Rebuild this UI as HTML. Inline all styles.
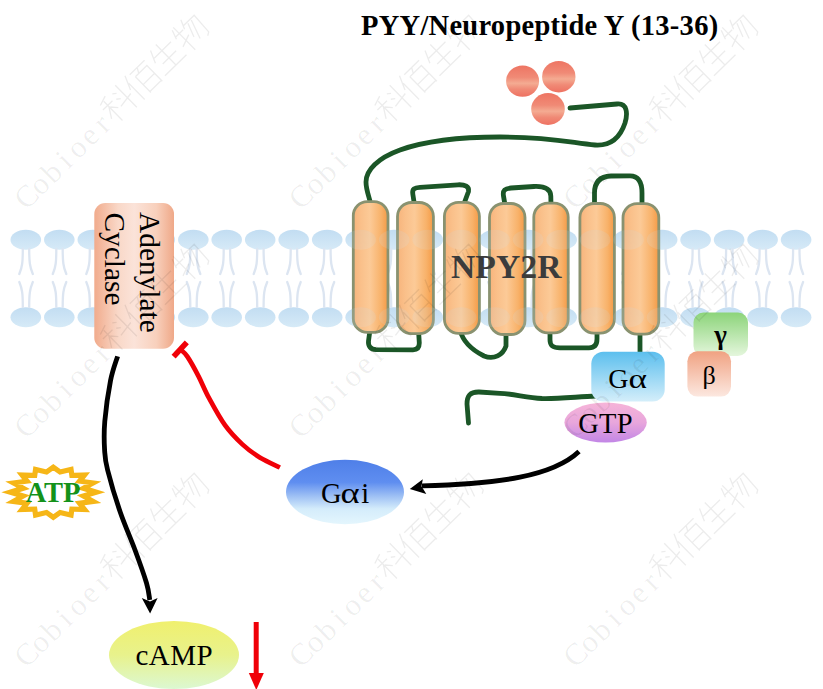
<!DOCTYPE html>
<html><head><meta charset="utf-8">
<style>
html,body{margin:0;padding:0;background:#fff;}
svg{display:block;}
text{font-family:"Liberation Serif",serif;}
</style></head>
<body>
<svg width="823" height="689" viewBox="0 0 823 689" >
<defs>
<linearGradient id="hd" x1="0" y1="0" x2="0" y2="1"><stop offset="0" stop-color="#c2ddf2"/><stop offset="1" stop-color="#d6eaf7"/></linearGradient>
<linearGradient id="hx" x1="0" y1="0" x2="1" y2="0"><stop offset="0" stop-color="#f7b47c"/><stop offset="0.22" stop-color="#fac08a"/><stop offset="0.48" stop-color="#fcca97"/><stop offset="0.8" stop-color="#f8b26a"/><stop offset="1" stop-color="#f49a46"/></linearGradient>
<linearGradient id="ac" x1="0" y1="0" x2="1" y2="0"><stop offset="0" stop-color="#f1ab8c"/><stop offset="0.3" stop-color="#f9d8c8"/><stop offset="0.5" stop-color="#fbe3d9"/><stop offset="0.78" stop-color="#f8d0bc"/><stop offset="1" stop-color="#efa888"/></linearGradient>
<linearGradient id="lg" x1="0" y1="0" x2="0" y2="1"><stop offset="0" stop-color="#ee7563"/><stop offset="0.38" stop-color="#f08a76"/><stop offset="0.57" stop-color="#f4ab92"/><stop offset="0.76" stop-color="#f08a76"/><stop offset="1" stop-color="#ee7262"/></linearGradient>
<linearGradient id="ga" x1="0" y1="0" x2="0" y2="1"><stop offset="0" stop-color="#5cbfee"/><stop offset="1" stop-color="#d4eefa"/></linearGradient>
<linearGradient id="gg" x1="0" y1="0" x2="0" y2="1"><stop offset="0" stop-color="#8cd47a"/><stop offset="1" stop-color="#e4f6dc"/></linearGradient>
<linearGradient id="gb" x1="0" y1="0" x2="0" y2="1"><stop offset="0" stop-color="#f0a282"/><stop offset="1" stop-color="#fce8e0"/></linearGradient>
<linearGradient id="gtp" x1="0" y1="0" x2="0" y2="1"><stop offset="0" stop-color="#f6b4d8"/><stop offset="0.5" stop-color="#e8a6dc"/><stop offset="1" stop-color="#c286e6"/></linearGradient>
<linearGradient id="gai" x1="0" y1="0" x2="0" y2="1"><stop offset="0" stop-color="#4f7fe8"/><stop offset="0.35" stop-color="#5f8ef0"/><stop offset="0.56" stop-color="#9dbff4"/><stop offset="0.76" stop-color="#d4ecfb"/><stop offset="1" stop-color="#e4f6fd"/></linearGradient>
<linearGradient id="camp" x1="0" y1="0" x2="0" y2="1"><stop offset="0" stop-color="#f0f06e"/><stop offset="0.5" stop-color="#e8f28c"/><stop offset="1" stop-color="#dcf8d2"/></linearGradient>
</defs>
<rect width="823" height="689" fill="#fff"/>

<g id="membrane">
<g transform="translate(25.8,0)"><ellipse cx="0" cy="239.8" rx="15.3" ry="10" fill="url(#hd)"/><ellipse cx="0" cy="317.2" rx="15.3" ry="10" fill="url(#hd)"/><path d="M-3,249 C-3,262 -3.5,267 -6.5,274 M3.4,249 C3.4,262 4,267 7,274 M-6.5,282 C-3.5,289 -3,294 -3,307 M7,282 C4,289 3.4,294 3.4,307" fill="none" stroke="#dce5f1" stroke-width="2.3" stroke-linecap="round"/></g>
<g transform="translate(59.3,0)"><ellipse cx="0" cy="239.8" rx="15.3" ry="10" fill="url(#hd)"/><ellipse cx="0" cy="317.2" rx="15.3" ry="10" fill="url(#hd)"/><path d="M-3,249 C-3,262 -3.5,267 -6.5,274 M3.4,249 C3.4,262 4,267 7,274 M-6.5,282 C-3.5,289 -3,294 -3,307 M7,282 C4,289 3.4,294 3.4,307" fill="none" stroke="#dce5f1" stroke-width="2.3" stroke-linecap="round"/></g>
<g transform="translate(92.8,0)"><ellipse cx="0" cy="239.8" rx="15.3" ry="10" fill="url(#hd)"/><ellipse cx="0" cy="317.2" rx="15.3" ry="10" fill="url(#hd)"/><path d="M-3,249 C-3,262 -3.5,267 -6.5,274 M3.4,249 C3.4,262 4,267 7,274 M-6.5,282 C-3.5,289 -3,294 -3,307 M7,282 C4,289 3.4,294 3.4,307" fill="none" stroke="#dce5f1" stroke-width="2.3" stroke-linecap="round"/></g>
<g transform="translate(126.3,0)"><ellipse cx="0" cy="239.8" rx="15.3" ry="10" fill="url(#hd)"/><ellipse cx="0" cy="317.2" rx="15.3" ry="10" fill="url(#hd)"/><path d="M-3,249 C-3,262 -3.5,267 -6.5,274 M3.4,249 C3.4,262 4,267 7,274 M-6.5,282 C-3.5,289 -3,294 -3,307 M7,282 C4,289 3.4,294 3.4,307" fill="none" stroke="#dce5f1" stroke-width="2.3" stroke-linecap="round"/></g>
<g transform="translate(159.8,0)"><ellipse cx="0" cy="239.8" rx="15.3" ry="10" fill="url(#hd)"/><ellipse cx="0" cy="317.2" rx="15.3" ry="10" fill="url(#hd)"/><path d="M-3,249 C-3,262 -3.5,267 -6.5,274 M3.4,249 C3.4,262 4,267 7,274 M-6.5,282 C-3.5,289 -3,294 -3,307 M7,282 C4,289 3.4,294 3.4,307" fill="none" stroke="#dce5f1" stroke-width="2.3" stroke-linecap="round"/></g>
<g transform="translate(193.3,0)"><ellipse cx="0" cy="239.8" rx="15.3" ry="10" fill="url(#hd)"/><ellipse cx="0" cy="317.2" rx="15.3" ry="10" fill="url(#hd)"/><path d="M-3,249 C-3,262 -3.5,267 -6.5,274 M3.4,249 C3.4,262 4,267 7,274 M-6.5,282 C-3.5,289 -3,294 -3,307 M7,282 C4,289 3.4,294 3.4,307" fill="none" stroke="#dce5f1" stroke-width="2.3" stroke-linecap="round"/></g>
<g transform="translate(226.7,0)"><ellipse cx="0" cy="239.8" rx="15.3" ry="10" fill="url(#hd)"/><ellipse cx="0" cy="317.2" rx="15.3" ry="10" fill="url(#hd)"/><path d="M-3,249 C-3,262 -3.5,267 -6.5,274 M3.4,249 C3.4,262 4,267 7,274 M-6.5,282 C-3.5,289 -3,294 -3,307 M7,282 C4,289 3.4,294 3.4,307" fill="none" stroke="#dce5f1" stroke-width="2.3" stroke-linecap="round"/></g>
<g transform="translate(260.2,0)"><ellipse cx="0" cy="239.8" rx="15.3" ry="10" fill="url(#hd)"/><ellipse cx="0" cy="317.2" rx="15.3" ry="10" fill="url(#hd)"/><path d="M-3,249 C-3,262 -3.5,267 -6.5,274 M3.4,249 C3.4,262 4,267 7,274 M-6.5,282 C-3.5,289 -3,294 -3,307 M7,282 C4,289 3.4,294 3.4,307" fill="none" stroke="#dce5f1" stroke-width="2.3" stroke-linecap="round"/></g>
<g transform="translate(293.7,0)"><ellipse cx="0" cy="239.8" rx="15.3" ry="10" fill="url(#hd)"/><ellipse cx="0" cy="317.2" rx="15.3" ry="10" fill="url(#hd)"/><path d="M-3,249 C-3,262 -3.5,267 -6.5,274 M3.4,249 C3.4,262 4,267 7,274 M-6.5,282 C-3.5,289 -3,294 -3,307 M7,282 C4,289 3.4,294 3.4,307" fill="none" stroke="#dce5f1" stroke-width="2.3" stroke-linecap="round"/></g>
<g transform="translate(327.2,0)"><ellipse cx="0" cy="239.8" rx="15.3" ry="10" fill="url(#hd)"/><ellipse cx="0" cy="317.2" rx="15.3" ry="10" fill="url(#hd)"/><path d="M-3,249 C-3,262 -3.5,267 -6.5,274 M3.4,249 C3.4,262 4,267 7,274 M-6.5,282 C-3.5,289 -3,294 -3,307 M7,282 C4,289 3.4,294 3.4,307" fill="none" stroke="#dce5f1" stroke-width="2.3" stroke-linecap="round"/></g>
<g transform="translate(360.7,0)"><ellipse cx="0" cy="239.8" rx="15.3" ry="10" fill="url(#hd)"/><ellipse cx="0" cy="317.2" rx="15.3" ry="10" fill="url(#hd)"/><path d="M-3,249 C-3,262 -3.5,267 -6.5,274 M3.4,249 C3.4,262 4,267 7,274 M-6.5,282 C-3.5,289 -3,294 -3,307 M7,282 C4,289 3.4,294 3.4,307" fill="none" stroke="#dce5f1" stroke-width="2.3" stroke-linecap="round"/></g>
<g transform="translate(394.2,0)"><ellipse cx="0" cy="239.8" rx="15.3" ry="10" fill="url(#hd)"/><ellipse cx="0" cy="317.2" rx="15.3" ry="10" fill="url(#hd)"/><path d="M-3,249 C-3,262 -3.5,267 -6.5,274 M3.4,249 C3.4,262 4,267 7,274 M-6.5,282 C-3.5,289 -3,294 -3,307 M7,282 C4,289 3.4,294 3.4,307" fill="none" stroke="#dce5f1" stroke-width="2.3" stroke-linecap="round"/></g>
<g transform="translate(427.7,0)"><ellipse cx="0" cy="239.8" rx="15.3" ry="10" fill="url(#hd)"/><ellipse cx="0" cy="317.2" rx="15.3" ry="10" fill="url(#hd)"/><path d="M-3,249 C-3,262 -3.5,267 -6.5,274 M3.4,249 C3.4,262 4,267 7,274 M-6.5,282 C-3.5,289 -3,294 -3,307 M7,282 C4,289 3.4,294 3.4,307" fill="none" stroke="#dce5f1" stroke-width="2.3" stroke-linecap="round"/></g>
<g transform="translate(461.2,0)"><ellipse cx="0" cy="239.8" rx="15.3" ry="10" fill="url(#hd)"/><ellipse cx="0" cy="317.2" rx="15.3" ry="10" fill="url(#hd)"/><path d="M-3,249 C-3,262 -3.5,267 -6.5,274 M3.4,249 C3.4,262 4,267 7,274 M-6.5,282 C-3.5,289 -3,294 -3,307 M7,282 C4,289 3.4,294 3.4,307" fill="none" stroke="#dce5f1" stroke-width="2.3" stroke-linecap="round"/></g>
<g transform="translate(494.7,0)"><ellipse cx="0" cy="239.8" rx="15.3" ry="10" fill="url(#hd)"/><ellipse cx="0" cy="317.2" rx="15.3" ry="10" fill="url(#hd)"/><path d="M-3,249 C-3,262 -3.5,267 -6.5,274 M3.4,249 C3.4,262 4,267 7,274 M-6.5,282 C-3.5,289 -3,294 -3,307 M7,282 C4,289 3.4,294 3.4,307" fill="none" stroke="#dce5f1" stroke-width="2.3" stroke-linecap="round"/></g>
<g transform="translate(528.1,0)"><ellipse cx="0" cy="239.8" rx="15.3" ry="10" fill="url(#hd)"/><ellipse cx="0" cy="317.2" rx="15.3" ry="10" fill="url(#hd)"/><path d="M-3,249 C-3,262 -3.5,267 -6.5,274 M3.4,249 C3.4,262 4,267 7,274 M-6.5,282 C-3.5,289 -3,294 -3,307 M7,282 C4,289 3.4,294 3.4,307" fill="none" stroke="#dce5f1" stroke-width="2.3" stroke-linecap="round"/></g>
<g transform="translate(561.6,0)"><ellipse cx="0" cy="239.8" rx="15.3" ry="10" fill="url(#hd)"/><ellipse cx="0" cy="317.2" rx="15.3" ry="10" fill="url(#hd)"/><path d="M-3,249 C-3,262 -3.5,267 -6.5,274 M3.4,249 C3.4,262 4,267 7,274 M-6.5,282 C-3.5,289 -3,294 -3,307 M7,282 C4,289 3.4,294 3.4,307" fill="none" stroke="#dce5f1" stroke-width="2.3" stroke-linecap="round"/></g>
<g transform="translate(595.1,0)"><ellipse cx="0" cy="239.8" rx="15.3" ry="10" fill="url(#hd)"/><ellipse cx="0" cy="317.2" rx="15.3" ry="10" fill="url(#hd)"/><path d="M-3,249 C-3,262 -3.5,267 -6.5,274 M3.4,249 C3.4,262 4,267 7,274 M-6.5,282 C-3.5,289 -3,294 -3,307 M7,282 C4,289 3.4,294 3.4,307" fill="none" stroke="#dce5f1" stroke-width="2.3" stroke-linecap="round"/></g>
<g transform="translate(628.6,0)"><ellipse cx="0" cy="239.8" rx="15.3" ry="10" fill="url(#hd)"/><ellipse cx="0" cy="317.2" rx="15.3" ry="10" fill="url(#hd)"/><path d="M-3,249 C-3,262 -3.5,267 -6.5,274 M3.4,249 C3.4,262 4,267 7,274 M-6.5,282 C-3.5,289 -3,294 -3,307 M7,282 C4,289 3.4,294 3.4,307" fill="none" stroke="#dce5f1" stroke-width="2.3" stroke-linecap="round"/></g>
<g transform="translate(662.1,0)"><ellipse cx="0" cy="239.8" rx="15.3" ry="10" fill="url(#hd)"/><ellipse cx="0" cy="317.2" rx="15.3" ry="10" fill="url(#hd)"/><path d="M-3,249 C-3,262 -3.5,267 -6.5,274 M3.4,249 C3.4,262 4,267 7,274 M-6.5,282 C-3.5,289 -3,294 -3,307 M7,282 C4,289 3.4,294 3.4,307" fill="none" stroke="#dce5f1" stroke-width="2.3" stroke-linecap="round"/></g>
<g transform="translate(695.6,0)"><ellipse cx="0" cy="239.8" rx="15.3" ry="10" fill="url(#hd)"/><ellipse cx="0" cy="317.2" rx="15.3" ry="10" fill="url(#hd)"/><path d="M-3,249 C-3,262 -3.5,267 -6.5,274 M3.4,249 C3.4,262 4,267 7,274 M-6.5,282 C-3.5,289 -3,294 -3,307 M7,282 C4,289 3.4,294 3.4,307" fill="none" stroke="#dce5f1" stroke-width="2.3" stroke-linecap="round"/></g>
<g transform="translate(729.1,0)"><ellipse cx="0" cy="239.8" rx="15.3" ry="10" fill="url(#hd)"/><ellipse cx="0" cy="317.2" rx="15.3" ry="10" fill="url(#hd)"/><path d="M-3,249 C-3,262 -3.5,267 -6.5,274 M3.4,249 C3.4,262 4,267 7,274 M-6.5,282 C-3.5,289 -3,294 -3,307 M7,282 C4,289 3.4,294 3.4,307" fill="none" stroke="#dce5f1" stroke-width="2.3" stroke-linecap="round"/></g>
<g transform="translate(762.6,0)"><ellipse cx="0" cy="239.8" rx="15.3" ry="10" fill="url(#hd)"/><ellipse cx="0" cy="317.2" rx="15.3" ry="10" fill="url(#hd)"/><path d="M-3,249 C-3,262 -3.5,267 -6.5,274 M3.4,249 C3.4,262 4,267 7,274 M-6.5,282 C-3.5,289 -3,294 -3,307 M7,282 C4,289 3.4,294 3.4,307" fill="none" stroke="#dce5f1" stroke-width="2.3" stroke-linecap="round"/></g>
<g transform="translate(796.1,0)"><ellipse cx="0" cy="239.8" rx="15.3" ry="10" fill="url(#hd)"/><ellipse cx="0" cy="317.2" rx="15.3" ry="10" fill="url(#hd)"/><path d="M-3,249 C-3,262 -3.5,267 -6.5,274 M3.4,249 C3.4,262 4,267 7,274 M-6.5,282 C-3.5,289 -3,294 -3,307 M7,282 C4,289 3.4,294 3.4,307" fill="none" stroke="#dce5f1" stroke-width="2.3" stroke-linecap="round"/></g>
</g>

<g fill="none" stroke="#1b5627" stroke-width="4.8" stroke-linecap="round" stroke-linejoin="round">
<path d="M570,108 L617,104 C627,103 628,113 625,123 C620,138 610,146 595,145 C572,143 552,137 500,137 C460,137 425,141 400,150 C378,158 366,170 366,182 C366,190 369,196 371,205"/>
<path d="M414.5,205 L412.8,194 C412,189 414.5,187.6 420,187.3 L458,184.8 C465,184.5 469.5,186.5 468.5,191.5 L463.5,205"/>
<path d="M505,205 L503.5,196 C502.5,190 505,188.5 511,188 L534,186.5 C546,186 550.5,189.5 550.8,196 L551,205"/>
<path d="M594.5,205 L594.5,193 C594.5,183 599,176.5 611,176 L630,175.8 C639,175.8 642,183 642,193 L642,205"/>
<path d="M370,330 L368.5,341 C368,346 370.5,349.4 376,349.6 L413,349.8 C418,349.8 419.3,347 419.3,343 L418.5,330"/>
<path d="M460,330 C463,342 472,350 484,356 C494,360 503,355 506,346 L506,330"/>
<path d="M550,330 L550,340 C550,346 553,347.8 560,347.8 L589,347.8 C595,347.8 597,344 597,339 L597,330"/>
<path d="M640,330 L640,356"/>
<path d="M596,396 C575,397 556,399 542,398.5 C526,397.5 514,394 500,393.3 L479,392 C470,391.8 467,396 467,404 L468.5,423" stroke-width="4.8"/>
</g>

<g>
<rect x="353.3" y="201.6" width="34.7" height="130.8" rx="14" ry="14" fill="url(#hx)" stroke="#899270" stroke-width="2.8"/>
<rect x="397.5" y="202.5" width="35.9" height="131.2" rx="14" ry="14" fill="url(#hx)" stroke="#899270" stroke-width="2.8"/>
<rect x="444.4" y="202.3" width="35.0" height="131.0" rx="14" ry="14" fill="url(#hx)" stroke="#899270" stroke-width="2.8"/>
<rect x="489.5" y="203.5" width="35.5" height="131.0" rx="14" ry="14" fill="url(#hx)" stroke="#899270" stroke-width="2.8"/>
<rect x="533.8" y="203.1" width="34.4" height="129.8" rx="14" ry="14" fill="url(#hx)" stroke="#899270" stroke-width="2.8"/>
<rect x="579.9" y="203.5" width="34.5" height="129.6" rx="14" ry="14" fill="url(#hx)" stroke="#899270" stroke-width="2.8"/>
<rect x="623.0" y="203.7" width="35.8" height="130.5" rx="14" ry="14" fill="url(#hx)" stroke="#899270" stroke-width="2.8"/>
</g>
<g opacity="0.14"><g transform="translate(360.7,0)"><ellipse cx="0" cy="239.8" rx="15.3" ry="10" fill="url(#hd)"/><ellipse cx="0" cy="317.2" rx="15.3" ry="10" fill="url(#hd)"/></g>
<g transform="translate(394.2,0)"><ellipse cx="0" cy="239.8" rx="15.3" ry="10" fill="url(#hd)"/><ellipse cx="0" cy="317.2" rx="15.3" ry="10" fill="url(#hd)"/></g>
<g transform="translate(427.7,0)"><ellipse cx="0" cy="239.8" rx="15.3" ry="10" fill="url(#hd)"/><ellipse cx="0" cy="317.2" rx="15.3" ry="10" fill="url(#hd)"/></g>
<g transform="translate(461.2,0)"><ellipse cx="0" cy="239.8" rx="15.3" ry="10" fill="url(#hd)"/><ellipse cx="0" cy="317.2" rx="15.3" ry="10" fill="url(#hd)"/></g>
<g transform="translate(494.7,0)"><ellipse cx="0" cy="239.8" rx="15.3" ry="10" fill="url(#hd)"/><ellipse cx="0" cy="317.2" rx="15.3" ry="10" fill="url(#hd)"/></g>
<g transform="translate(528.1,0)"><ellipse cx="0" cy="239.8" rx="15.3" ry="10" fill="url(#hd)"/><ellipse cx="0" cy="317.2" rx="15.3" ry="10" fill="url(#hd)"/></g>
<g transform="translate(561.6,0)"><ellipse cx="0" cy="239.8" rx="15.3" ry="10" fill="url(#hd)"/><ellipse cx="0" cy="317.2" rx="15.3" ry="10" fill="url(#hd)"/></g>
<g transform="translate(595.1,0)"><ellipse cx="0" cy="239.8" rx="15.3" ry="10" fill="url(#hd)"/><ellipse cx="0" cy="317.2" rx="15.3" ry="10" fill="url(#hd)"/></g>
<g transform="translate(628.6,0)"><ellipse cx="0" cy="239.8" rx="15.3" ry="10" fill="url(#hd)"/><ellipse cx="0" cy="317.2" rx="15.3" ry="10" fill="url(#hd)"/></g>
<g transform="translate(662.1,0)"><ellipse cx="0" cy="239.8" rx="15.3" ry="10" fill="url(#hd)"/><ellipse cx="0" cy="317.2" rx="15.3" ry="10" fill="url(#hd)"/></g></g>
<text x="506.3" y="278" font-size="33.6" font-weight="bold" fill="#3c3c3c" text-anchor="middle" letter-spacing="0.1">NPY2R</text>

<ellipse cx="522.6" cy="81.1" rx="16.5" ry="15.6" fill="url(#lg)"/>
<ellipse cx="558.8" cy="76.7" rx="16.7" ry="15.7" fill="url(#lg)"/>
<ellipse cx="548" cy="109" rx="16.8" ry="15.9" fill="url(#lg)"/>

<rect x="94.3" y="203" width="79.7" height="145.7" rx="11" fill="url(#ac)"/>
<g transform="translate(139.8,212) rotate(90)"><text x="0" y="0" font-size="29.4">Adenylate</text></g>
<g transform="translate(105,212.5) rotate(90)"><text x="0" y="0" font-size="29.4">Cyclase</text></g>

<rect x="693.5" y="312.6" width="54.5" height="43.3" rx="10" fill="url(#gg)"/>
<text x="720.5" y="344" font-size="27" font-weight="bold" text-anchor="middle">&#947;</text>
<rect x="687.4" y="351.3" width="43.6" height="45.3" rx="10" fill="url(#gb)"/>
<text x="709" y="384" font-size="26" text-anchor="middle">&#946;</text>
<rect x="591.3" y="351.8" width="73.4" height="49.6" rx="12" fill="url(#ga)"/>
<text x="608.3" y="388" font-size="28">G</text><text transform="translate(628.6,388) scale(1.26,1)" x="0" y="0" font-size="28">&#945;</text>
<ellipse cx="605.6" cy="422.6" rx="41.2" ry="20" fill="url(#gtp)"/>
<text x="605.6" y="432.5" font-size="28.5" text-anchor="middle" letter-spacing="0.3">GTP</text>

<ellipse cx="345" cy="492" rx="59" ry="32.3" fill="url(#gai)"/>
<text x="321" y="503" font-size="28.5">G</text><text transform="translate(340.5,503) scale(1.28,1)" x="0" y="0" font-size="28.5">&#945;</text><text x="361.2" y="503" font-size="28.5">i</text>

<path d="M579,451.5 C553,476 500,484 422,485.8" fill="none" stroke="#000" stroke-width="4.8"/>
<path d="M409.8,489 L422.8,479.2 L421.5,486.2 L426.3,494 Z" fill="#000"/>
<path d="M279.9,467.5 C276.5,465.8 266.1,461.4 259.8,457.5 C253.6,453.6 248.2,449.8 242.4,444.4 C236.6,439.0 230.5,432.9 225,425.2 C219.5,417.5 213.6,406.5 209.2,398.4 C204.8,390.3 202.3,383.6 198.7,376.6 C195.1,369.6 190.4,361.1 187.4,356.6 C184.4,352.1 181.7,350.7 180.5,349.5" fill="none" stroke="#f00008" stroke-width="4.7"/>
<path d="M173.6,356.6 L186.8,342.4" stroke="#f00008" stroke-width="5.6"/>
<path d="M117.6,356.3 C116.4,360.4 112.6,369.9 110.5,380.7 C108.4,391.5 105.8,409.8 104.8,421.3 C103.8,432.9 104.1,441.9 104.6,450 C105.1,458.1 105.0,459.7 107.6,470 C110.2,480.3 115.6,498.7 120.2,512 C124.8,525.3 130.6,538.2 135,550 C139.4,561.8 144.0,574.7 146.5,583 C149.0,591.3 149.2,597.2 149.8,600" fill="none" stroke="#000" stroke-width="4.8"/>
<path d="M150.1,613.5 L141.8,598 L150,601.5 L157.6,598 Z" fill="#000"/>

<clipPath id="starclip"><polygon points="53.30,464.00 60.62,469.15 73.20,466.15 74.13,472.66 90.07,472.26 84.48,479.14 101.34,481.41 90.08,487.62 105.30,492.20 90.08,496.78 101.34,502.99 84.48,505.26 90.07,512.14 74.13,511.74 73.20,518.25 60.62,515.25 53.30,520.40 45.98,515.25 33.40,518.25 32.47,511.74 16.53,512.14 22.12,505.26 5.26,502.99 16.52,496.78 1.30,492.20 16.52,487.62 5.26,481.41 22.12,479.14 16.53,472.26 32.47,472.66 33.40,466.15 45.98,469.15"/></clipPath><polygon points="53.30,464.00 60.62,469.15 73.20,466.15 74.13,472.66 90.07,472.26 84.48,479.14 101.34,481.41 90.08,487.62 105.30,492.20 90.08,496.78 101.34,502.99 84.48,505.26 90.07,512.14 74.13,511.74 73.20,518.25 60.62,515.25 53.30,520.40 45.98,515.25 33.40,518.25 32.47,511.74 16.53,512.14 22.12,505.26 5.26,502.99 16.52,496.78 1.30,492.20 16.52,487.62 5.26,481.41 22.12,479.14 16.53,472.26 32.47,472.66 33.40,466.15 45.98,469.15" fill="#fff" stroke="#f6b617" stroke-width="10.4" stroke-linejoin="miter" stroke-miterlimit="20" clip-path="url(#starclip)"/>
<text x="53.1" y="501.8" font-size="28.5" font-weight="bold" fill="#14921a" text-anchor="middle">ATP</text>

<ellipse cx="174" cy="655" rx="65" ry="34" fill="url(#camp)"/>
<text x="174.3" y="664.8" font-size="29" text-anchor="middle" letter-spacing="0.5">cAMP</text>
<path d="M256.2,622 L256.2,676" stroke="#f00008" stroke-width="5"/>
<path d="M248.8,673 L263.8,673 L256.3,690 Z" fill="#f00008"/>

<text x="361" y="34.5" font-size="28.5" font-weight="bold" letter-spacing="0.27">PYY/Neuropeptide Y (13-36)</text>

<g id="watermarks">
<g transform="translate(27.5,210.0) rotate(-44.5)"><text x="-1.6 18.5 36.0 56.9 71.0 89.4 108.6" y="0" font-size="31" fill="#000" fill-opacity="0.065">Cobioer</text><path transform="translate(122.5,0) scale(0.335)" d="M38,-80L8,-70M4,-55L44,-55M24,-72L24,8M24,-50L4,-18M26,-46L42,-28M58,-70L68,-62M55,-50L66,-42M50,-25L98,-32M82,-82L82,10" fill="none" stroke="#000" stroke-opacity="0.075" stroke-width="4"/><path transform="translate(156.3,0) scale(0.335)" d="M22,-82L4,-40M14,-58L14,10M34,-74L96,-74M64,-72L56,-58M42,-58L42,8M42,-58L90,-58L90,8M42,-25L90,-25M42,4L90,4" fill="none" stroke="#000" stroke-opacity="0.075" stroke-width="4"/><path transform="translate(190.1,0) scale(0.335)" d="M28,-82L12,-45M20,-58L90,-58M52,-84L52,2M26,-28L82,-28M6,2L96,2" fill="none" stroke="#000" stroke-opacity="0.075" stroke-width="4"/><path transform="translate(223.89999999999998,0) scale(0.335)" d="M16,-80L6,-52M8,-58L40,-58M24,-84L24,10M4,-22L42,-36M56,-84L44,-56M50,-66L94,-66L90,0L80,6M64,-62L48,-20M78,-62L58,-4" fill="none" stroke="#000" stroke-opacity="0.075" stroke-width="4"/></g>
<g transform="translate(27.5,439.0) rotate(-44.5)"><text x="-1.6 18.5 36.0 56.9 71.0 89.4 108.6" y="0" font-size="31" fill="#000" fill-opacity="0.065">Cobioer</text><path transform="translate(122.5,0) scale(0.335)" d="M38,-80L8,-70M4,-55L44,-55M24,-72L24,8M24,-50L4,-18M26,-46L42,-28M58,-70L68,-62M55,-50L66,-42M50,-25L98,-32M82,-82L82,10" fill="none" stroke="#000" stroke-opacity="0.075" stroke-width="4"/><path transform="translate(156.3,0) scale(0.335)" d="M22,-82L4,-40M14,-58L14,10M34,-74L96,-74M64,-72L56,-58M42,-58L42,8M42,-58L90,-58L90,8M42,-25L90,-25M42,4L90,4" fill="none" stroke="#000" stroke-opacity="0.075" stroke-width="4"/><path transform="translate(190.1,0) scale(0.335)" d="M28,-82L12,-45M20,-58L90,-58M52,-84L52,2M26,-28L82,-28M6,2L96,2" fill="none" stroke="#000" stroke-opacity="0.075" stroke-width="4"/><path transform="translate(223.89999999999998,0) scale(0.335)" d="M16,-80L6,-52M8,-58L40,-58M24,-84L24,10M4,-22L42,-36M56,-84L44,-56M50,-66L94,-66L90,0L80,6M64,-62L48,-20M78,-62L58,-4" fill="none" stroke="#000" stroke-opacity="0.075" stroke-width="4"/></g>
<g transform="translate(27.5,668.0) rotate(-44.5)"><text x="-1.6 18.5 36.0 56.9 71.0 89.4 108.6" y="0" font-size="31" fill="#000" fill-opacity="0.065">Cobioer</text><path transform="translate(122.5,0) scale(0.335)" d="M38,-80L8,-70M4,-55L44,-55M24,-72L24,8M24,-50L4,-18M26,-46L42,-28M58,-70L68,-62M55,-50L66,-42M50,-25L98,-32M82,-82L82,10" fill="none" stroke="#000" stroke-opacity="0.075" stroke-width="4"/><path transform="translate(156.3,0) scale(0.335)" d="M22,-82L4,-40M14,-58L14,10M34,-74L96,-74M64,-72L56,-58M42,-58L42,8M42,-58L90,-58L90,8M42,-25L90,-25M42,4L90,4" fill="none" stroke="#000" stroke-opacity="0.075" stroke-width="4"/><path transform="translate(190.1,0) scale(0.335)" d="M28,-82L12,-45M20,-58L90,-58M52,-84L52,2M26,-28L82,-28M6,2L96,2" fill="none" stroke="#000" stroke-opacity="0.075" stroke-width="4"/><path transform="translate(223.89999999999998,0) scale(0.335)" d="M16,-80L6,-52M8,-58L40,-58M24,-84L24,10M4,-22L42,-36M56,-84L44,-56M50,-66L94,-66L90,0L80,6M64,-62L48,-20M78,-62L58,-4" fill="none" stroke="#000" stroke-opacity="0.075" stroke-width="4"/></g>
<g transform="translate(302.0,210.0) rotate(-44.5)"><text x="-1.6 18.5 36.0 56.9 71.0 89.4 108.6" y="0" font-size="31" fill="#000" fill-opacity="0.065">Cobioer</text><path transform="translate(122.5,0) scale(0.335)" d="M38,-80L8,-70M4,-55L44,-55M24,-72L24,8M24,-50L4,-18M26,-46L42,-28M58,-70L68,-62M55,-50L66,-42M50,-25L98,-32M82,-82L82,10" fill="none" stroke="#000" stroke-opacity="0.075" stroke-width="4"/><path transform="translate(156.3,0) scale(0.335)" d="M22,-82L4,-40M14,-58L14,10M34,-74L96,-74M64,-72L56,-58M42,-58L42,8M42,-58L90,-58L90,8M42,-25L90,-25M42,4L90,4" fill="none" stroke="#000" stroke-opacity="0.075" stroke-width="4"/><path transform="translate(190.1,0) scale(0.335)" d="M28,-82L12,-45M20,-58L90,-58M52,-84L52,2M26,-28L82,-28M6,2L96,2" fill="none" stroke="#000" stroke-opacity="0.075" stroke-width="4"/><path transform="translate(223.89999999999998,0) scale(0.335)" d="M16,-80L6,-52M8,-58L40,-58M24,-84L24,10M4,-22L42,-36M56,-84L44,-56M50,-66L94,-66L90,0L80,6M64,-62L48,-20M78,-62L58,-4" fill="none" stroke="#000" stroke-opacity="0.075" stroke-width="4"/></g>
<g transform="translate(302.0,439.0) rotate(-44.5)"><text x="-1.6 18.5 36.0 56.9 71.0 89.4 108.6" y="0" font-size="31" fill="#000" fill-opacity="0.065">Cobioer</text><path transform="translate(122.5,0) scale(0.335)" d="M38,-80L8,-70M4,-55L44,-55M24,-72L24,8M24,-50L4,-18M26,-46L42,-28M58,-70L68,-62M55,-50L66,-42M50,-25L98,-32M82,-82L82,10" fill="none" stroke="#000" stroke-opacity="0.075" stroke-width="4"/><path transform="translate(156.3,0) scale(0.335)" d="M22,-82L4,-40M14,-58L14,10M34,-74L96,-74M64,-72L56,-58M42,-58L42,8M42,-58L90,-58L90,8M42,-25L90,-25M42,4L90,4" fill="none" stroke="#000" stroke-opacity="0.075" stroke-width="4"/><path transform="translate(190.1,0) scale(0.335)" d="M28,-82L12,-45M20,-58L90,-58M52,-84L52,2M26,-28L82,-28M6,2L96,2" fill="none" stroke="#000" stroke-opacity="0.075" stroke-width="4"/><path transform="translate(223.89999999999998,0) scale(0.335)" d="M16,-80L6,-52M8,-58L40,-58M24,-84L24,10M4,-22L42,-36M56,-84L44,-56M50,-66L94,-66L90,0L80,6M64,-62L48,-20M78,-62L58,-4" fill="none" stroke="#000" stroke-opacity="0.075" stroke-width="4"/></g>
<g transform="translate(302.0,668.0) rotate(-44.5)"><text x="-1.6 18.5 36.0 56.9 71.0 89.4 108.6" y="0" font-size="31" fill="#000" fill-opacity="0.065">Cobioer</text><path transform="translate(122.5,0) scale(0.335)" d="M38,-80L8,-70M4,-55L44,-55M24,-72L24,8M24,-50L4,-18M26,-46L42,-28M58,-70L68,-62M55,-50L66,-42M50,-25L98,-32M82,-82L82,10" fill="none" stroke="#000" stroke-opacity="0.075" stroke-width="4"/><path transform="translate(156.3,0) scale(0.335)" d="M22,-82L4,-40M14,-58L14,10M34,-74L96,-74M64,-72L56,-58M42,-58L42,8M42,-58L90,-58L90,8M42,-25L90,-25M42,4L90,4" fill="none" stroke="#000" stroke-opacity="0.075" stroke-width="4"/><path transform="translate(190.1,0) scale(0.335)" d="M28,-82L12,-45M20,-58L90,-58M52,-84L52,2M26,-28L82,-28M6,2L96,2" fill="none" stroke="#000" stroke-opacity="0.075" stroke-width="4"/><path transform="translate(223.89999999999998,0) scale(0.335)" d="M16,-80L6,-52M8,-58L40,-58M24,-84L24,10M4,-22L42,-36M56,-84L44,-56M50,-66L94,-66L90,0L80,6M64,-62L48,-20M78,-62L58,-4" fill="none" stroke="#000" stroke-opacity="0.075" stroke-width="4"/></g>
<g transform="translate(576.5,210.0) rotate(-44.5)"><text x="-1.6 18.5 36.0 56.9 71.0 89.4 108.6" y="0" font-size="31" fill="#000" fill-opacity="0.065">Cobioer</text><path transform="translate(122.5,0) scale(0.335)" d="M38,-80L8,-70M4,-55L44,-55M24,-72L24,8M24,-50L4,-18M26,-46L42,-28M58,-70L68,-62M55,-50L66,-42M50,-25L98,-32M82,-82L82,10" fill="none" stroke="#000" stroke-opacity="0.075" stroke-width="4"/><path transform="translate(156.3,0) scale(0.335)" d="M22,-82L4,-40M14,-58L14,10M34,-74L96,-74M64,-72L56,-58M42,-58L42,8M42,-58L90,-58L90,8M42,-25L90,-25M42,4L90,4" fill="none" stroke="#000" stroke-opacity="0.075" stroke-width="4"/><path transform="translate(190.1,0) scale(0.335)" d="M28,-82L12,-45M20,-58L90,-58M52,-84L52,2M26,-28L82,-28M6,2L96,2" fill="none" stroke="#000" stroke-opacity="0.075" stroke-width="4"/><path transform="translate(223.89999999999998,0) scale(0.335)" d="M16,-80L6,-52M8,-58L40,-58M24,-84L24,10M4,-22L42,-36M56,-84L44,-56M50,-66L94,-66L90,0L80,6M64,-62L48,-20M78,-62L58,-4" fill="none" stroke="#000" stroke-opacity="0.075" stroke-width="4"/></g>
<g transform="translate(576.5,439.0) rotate(-44.5)"><text x="-1.6 18.5 36.0 56.9 71.0 89.4 108.6" y="0" font-size="31" fill="#000" fill-opacity="0.065">Cobioer</text><path transform="translate(122.5,0) scale(0.335)" d="M38,-80L8,-70M4,-55L44,-55M24,-72L24,8M24,-50L4,-18M26,-46L42,-28M58,-70L68,-62M55,-50L66,-42M50,-25L98,-32M82,-82L82,10" fill="none" stroke="#000" stroke-opacity="0.075" stroke-width="4"/><path transform="translate(156.3,0) scale(0.335)" d="M22,-82L4,-40M14,-58L14,10M34,-74L96,-74M64,-72L56,-58M42,-58L42,8M42,-58L90,-58L90,8M42,-25L90,-25M42,4L90,4" fill="none" stroke="#000" stroke-opacity="0.075" stroke-width="4"/><path transform="translate(190.1,0) scale(0.335)" d="M28,-82L12,-45M20,-58L90,-58M52,-84L52,2M26,-28L82,-28M6,2L96,2" fill="none" stroke="#000" stroke-opacity="0.075" stroke-width="4"/><path transform="translate(223.89999999999998,0) scale(0.335)" d="M16,-80L6,-52M8,-58L40,-58M24,-84L24,10M4,-22L42,-36M56,-84L44,-56M50,-66L94,-66L90,0L80,6M64,-62L48,-20M78,-62L58,-4" fill="none" stroke="#000" stroke-opacity="0.075" stroke-width="4"/></g>
<g transform="translate(576.5,668.0) rotate(-44.5)"><text x="-1.6 18.5 36.0 56.9 71.0 89.4 108.6" y="0" font-size="31" fill="#000" fill-opacity="0.065">Cobioer</text><path transform="translate(122.5,0) scale(0.335)" d="M38,-80L8,-70M4,-55L44,-55M24,-72L24,8M24,-50L4,-18M26,-46L42,-28M58,-70L68,-62M55,-50L66,-42M50,-25L98,-32M82,-82L82,10" fill="none" stroke="#000" stroke-opacity="0.075" stroke-width="4"/><path transform="translate(156.3,0) scale(0.335)" d="M22,-82L4,-40M14,-58L14,10M34,-74L96,-74M64,-72L56,-58M42,-58L42,8M42,-58L90,-58L90,8M42,-25L90,-25M42,4L90,4" fill="none" stroke="#000" stroke-opacity="0.075" stroke-width="4"/><path transform="translate(190.1,0) scale(0.335)" d="M28,-82L12,-45M20,-58L90,-58M52,-84L52,2M26,-28L82,-28M6,2L96,2" fill="none" stroke="#000" stroke-opacity="0.075" stroke-width="4"/><path transform="translate(223.89999999999998,0) scale(0.335)" d="M16,-80L6,-52M8,-58L40,-58M24,-84L24,10M4,-22L42,-36M56,-84L44,-56M50,-66L94,-66L90,0L80,6M64,-62L48,-20M78,-62L58,-4" fill="none" stroke="#000" stroke-opacity="0.075" stroke-width="4"/></g>
</g>
</svg>
</body></html>
